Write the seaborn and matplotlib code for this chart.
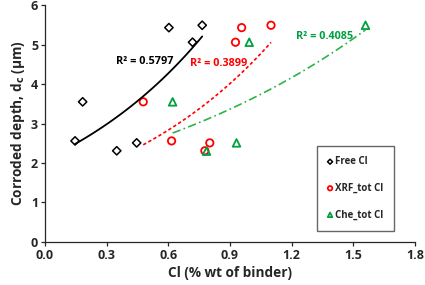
import numpy as np
import pandas as pd
import matplotlib
matplotlib.use('Agg')
import matplotlib.pyplot as plt
import seaborn as sns

# Data
free_x = [0.146, 0.183, 0.349, 0.446, 0.603, 0.718, 0.765]
free_y = [2.56, 3.55, 2.31, 2.51, 5.43, 5.06, 5.49]
xrf_x = [0.478, 0.616, 0.778, 0.802, 0.927, 0.957, 1.10]
xrf_y = [3.55, 2.56, 2.31, 2.51, 5.06, 5.43, 5.49]
che_x = [0.621, 0.786, 0.932, 0.994, 1.56]
che_y = [3.55, 2.30, 2.51, 5.06, 5.49]
r2_labels = ['R² = 0.5797', 'R² = 0.3899', 'R² = 0.4085']

sns.set_style('ticks')
plt.rcParams['font.family'] = ['Open Sans', 'DejaVu Sans']
W = 'bold'

fig = plt.figure(figsize=(4.25, 2.85), dpi=100)
ax = fig.add_axes([0.106, 0.151, 0.870, 0.831])

red = '#FF0000'
green = '#00A040'

# exponential trend lines (Excel style), fitted from the scatter data
def exp_fit(x, y):
    b, lna = np.polyfit(np.array(x), np.log(np.array(y)), 1)
    xs = np.linspace(min(x), max(x), 60)
    return pd.DataFrame({'x': xs, 'y': np.exp(lna) * np.exp(b * xs)})

sns.lineplot(x='x', y='y', data=exp_fit(free_x, free_y), ax=ax, color='black', lw=1.3)
sns.lineplot(x='x', y='y', data=exp_fit(xrf_x, xrf_y), ax=ax, color=red, lw=1.2,
             linestyle=(0, (2, 1.5)))
sns.lineplot(x='x', y='y', data=exp_fit(che_x, che_y), ax=ax, color='#2DB34A', lw=1.2,
             linestyle=(0, (5, 2, 1, 2)))

sns.scatterplot(x=free_x, y=free_y, ax=ax, marker='D', s=18, facecolor='none', edgecolor='black',
                linewidth=1.1, label='Free Cl')
sns.scatterplot(x=xrf_x, y=xrf_y, ax=ax, marker='o', s=28, facecolor='none', edgecolor=red,
                linewidth=1.3, label='XRF_tot Cl')
sns.scatterplot(x=che_x, y=che_y, ax=ax, marker='^', s=30, facecolor='none', edgecolor=green,
                linewidth=1.3, label='Che_tot Cl')

ax.text(0.486, 4.56, r2_labels[0], color='black', fontsize=7.8, fontweight=W, ha='center', va='center')
ax.text(0.846, 4.53, r2_labels[1], color=red, fontsize=7.8, fontweight=W, ha='center', va='center')
ax.text(1.36, 5.20, r2_labels[2], color=green, fontsize=7.8, fontweight=W, ha='center', va='center')

ax.set_xlim(0, 1.8)
ax.set_ylim(0, 6)
ax.set_xticks(np.arange(0, 1.81, 0.3))
ax.set_xticklabels(['0.0', '0.3', '0.6', '0.9', '1.2', '1.5', '1.8'])
ax.set_yticks(range(7))
ax.tick_params(labelsize=9, length=3, width=0.9, pad=2)
for lab in ax.get_xticklabels() + ax.get_yticklabels():
    lab.set_fontweight(W)
sns.despine(ax=ax)
ax.spines['left'].set_linewidth(0.9)
ax.spines['bottom'].set_linewidth(0.9)

ax.set_xlabel('Cl (% wt of binder)', fontsize=9.8, fontweight=W, labelpad=3)
ax.set_ylabel('Corroded depth, d$_\\mathbf{c}$ (\u03bcm)', fontsize=9.8, fontweight=W, labelpad=3)

leg = ax.legend(loc='center', bbox_to_anchor=(0.703, 0.058, 0.274, 0.337), frameon=True, fancybox=False,
                edgecolor='#404040', fontsize=7, labelspacing=1.6, handlelength=0.5, handletextpad=0.3,
                borderpad=1.1, markerscale=0.6)
leg.get_frame().set_linewidth(1.0)
for t in leg.get_texts():
    t.set_fontweight(W)

fig.savefig('out.png', dpi=100)
